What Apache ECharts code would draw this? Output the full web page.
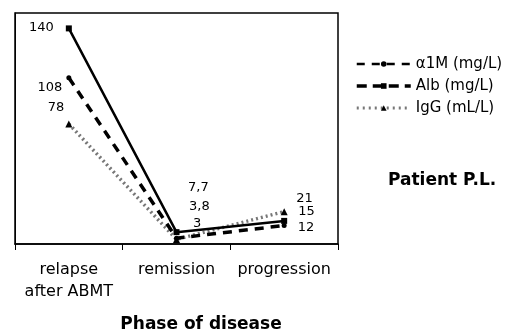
<!DOCTYPE html>
<html>
<head>
<meta charset="utf-8">
<script src="https://cdn.jsdelivr.net/npm/echarts@6/dist/echarts.min.js"></script>
<style>
html, body { margin: 0; padding: 0; background: #fff; }
#chart { width: 518px; height: 331px; }
</style>
</head>
<body>
<div id="chart"></div>
<script>
// phases of disease (x categories)
var phases = ['relapse\nafter ABMT', 'remission', 'progression'];
// series values
var albValues = [140, 7.7, 15];
var a1mValues = [108, 3.8, 12];
var iggValues = [78, 3, 21];
var seriesNames = ['\u03b11M (mg/L)', 'Alb (mg/L)', 'IgG (mL/L)'];

// the source picture is stretched sideways, DejaVu's wide glyphs get closest
var font = 'DejaVu Sans, Verdana, sans-serif';

// labels were placed by hand in the original, so each point gets its own spot
function withLabels(values, places) {
	return values.map(function (v, i) {
		var p = places[i];
		return {
			value: v,
			label: { show: true, position: p[0], distance: p[1], offset: [0, p[2]] }
		};
	});
}

function commaFmt(p) {
	return String(p.value).replace('.', ',');
}

var labelBase = { color: '#000', fontFamily: font, fontSize: 13, formatter: commaFmt };

var chart = echarts.init(document.getElementById('chart'));

var option = {
	animation: false,
	backgroundColor: '#fff',
	title: {
		text: 'Patient P.L.',
		left: 383, top: 167,
		textStyle: { fontFamily: font, fontSize: 17, fontWeight: 'bold', color: '#000' }
	},
	legend: {
		orient: 'vertical',
		left: 350, top: 51,
		itemWidth: 54, itemHeight: 7, itemGap: 6,
		textStyle: { fontFamily: font, fontSize: 15, lineHeight: 16, color: '#000' },
		data: [
			{ name: seriesNames[0], lineStyle: { type: [8, 7], width: 2.5, color: '#000' } },
			{ name: seriesNames[1], lineStyle: { type: [10, 6], width: 3.5, color: '#000' } },
			{ name: seriesNames[2], lineStyle: { type: [2, 4], width: 3, color: '#777' } }
		]
	},
	grid: {
		left: 15, top: 13, right: 180, bottom: 87,
		containLabel: false,
		outerBoundsMode: 'none',
		show: true, borderColor: '#000', borderWidth: 1.5
	},
	xAxis: {
		type: 'category',
		data: phases,
		boundaryGap: true,
		axisLine: { show: true, lineStyle: { color: '#000', width: 1.5 } },
		axisTick: { show: true, interval: 0, length: 6, lineStyle: { color: '#000', width: 1 } },
		axisLabel: {
			interval: 0, hideOverlap: false,
			color: '#000', fontFamily: font, fontSize: 16, margin: 15, lineHeight: 22
		},
		name: 'Phase of disease',
		nameLocation: 'middle',
		nameGap: 72,
		nameTextStyle: {
			fontFamily: font, fontSize: 17, fontWeight: 'bold', color: '#000',
			padding: [0, 0, 0, 49]
		}
	},
	yAxis: {
		type: 'value',
		min: 0, max: 150,
		axisLine: { show: true, lineStyle: { color: '#000', width: 1 } },
		axisTick: { show: false },
		axisLabel: { show: false },
		splitLine: { show: false }
	},
	series: [
		{
			name: seriesNames[0],
			type: 'line',
			data: withLabels(a1mValues, [['left', 4, 10], ['right', 10, -32], ['right', 11, 2.5]]),
			symbol: 'circle', symbolSize: 5,
			itemStyle: { color: '#000' },
			lineStyle: { type: [9, 7], width: 3.5, color: '#000' },
			label: labelBase,
			z: 3
		},
		{
			name: seriesNames[1],
			type: 'line',
			data: withLabels(albValues, [['left', 12, -1], ['right', 8.5, -44.5], ['right', 11, -9]]),
			symbol: 'rect', symbolSize: 6,
			itemStyle: { color: '#000' },
			lineStyle: { type: 'solid', width: 2.5, color: '#000' },
			label: labelBase,
			z: 4
		},
		{
			name: seriesNames[2],
			type: 'line',
			data: withLabels(iggValues, [['left', 1, -16], ['right', 13, -15.5], ['right', 8.5, -13.5]]),
			symbol: 'triangle', symbolSize: 7,
			itemStyle: { color: '#000' },
			lineStyle: { type: [2, 3], width: 3.5, color: '#777' },
			label: labelBase,
			z: 2
		}
	]
};

chart.setOption(option);
</script>
</body>
</html>
